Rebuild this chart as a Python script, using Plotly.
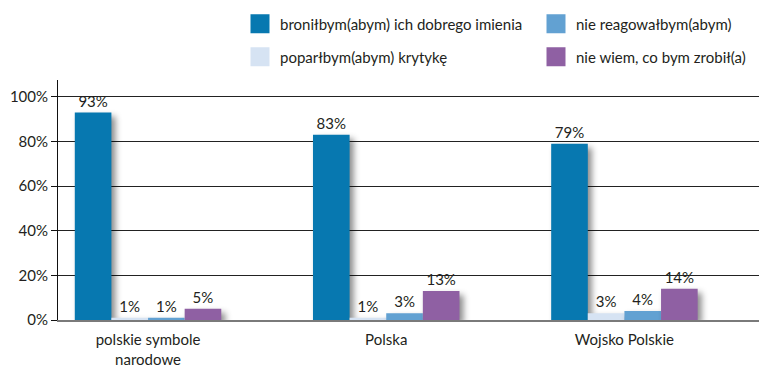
import plotly.graph_objects as go

categories = ["polskie symbole<br>narodowe", "Polska", "Wojsko Polskie"]
series_names = [
    "broniłbym(abym) ich dobrego imienia",
    "poparłbym(abym) krytykę",
    "nie reagowałbym(abym)",
    "nie wiem, co bym zrobił(a)",
]
broniłbym = [93, 83, 79]
poparłbym = [1, 1, 3]
nie_reagowałbym = [1, 3, 4]
nie_wiem = [5, 13, 14]
series_values = [broniłbym, poparłbym, nie_reagowałbym, nie_wiem]
colors = ["#0778B0", "#D6E3F3", "#62A1D2", "#8F60A3"]
y_ticks = [0, 20, 40, 60, 80, 100]
y_tick_labels = [f"{t}%" for t in y_ticks]

FONT = "Lato"
TEXT = "#231F20"
W, H = 759, 368

# legend placement: one single-item legend per series, laid out in two columns
legend_pos = [(250, 24), (250, 57), (546, 24), (546, 57)]

fig = go.Figure()
for i, (name, vals, col) in enumerate(zip(series_names, series_values, colors)):
    fig.add_trace(go.Bar(
        x=categories, y=vals, name=name, marker_color=col,
        marker_line_width=0,
        text=vals, texttemplate="%{y}%", textposition="outside",
        textfont=dict(family=FONT, size=15, color=TEXT),
        cliponaxis=False, showlegend=False,
    ))
    lg = "legend" if i == 0 else f"legend{i + 1}"
    fig.add_trace(go.Scatter(
        x=[categories[0]], y=[None], mode="markers", name=name,
        marker=dict(symbol="square", size=19, color=col,
                    line=dict(width=3, color=col)),
        legend=lg, showlegend=True, hoverinfo="skip",
    ))

layout_legends = {}
for i, (px, py) in enumerate(legend_pos):
    key = "legend" if i == 0 else f"legend{i + 1}"
    layout_legends[key] = dict(
        xref="container", yref="container",
        x=(px - 10) / W, y=1 - py / H, xanchor="left", yanchor="middle",
        font=dict(family=FONT, size=15, color=TEXT),
        bgcolor="rgba(0,0,0,0)", itemsizing="trace", itemwidth=30,
        borderwidth=0,
    )

fig.update_layout(
    width=W, height=H,
    margin=dict(l=58, r=0, t=80, b=48, autoexpand=False),
    paper_bgcolor="white", plot_bgcolor="white",
    barmode="group", bargap=0.385, bargroupgap=0,
    font=dict(family=FONT, size=15, color=TEXT),
    **layout_legends,
)
fig.update_xaxes(
    type="category", categoryorder="array", categoryarray=categories,
    range=[-0.378, 2.565], automargin=False, ticklabelstandoff=5,
    showgrid=False, showline=True, linecolor="#7A7A7A", linewidth=2,
    ticks="", tickfont=dict(family=FONT, size=15, color=TEXT),
)
fig.update_yaxes(
    range=[0, 107.6], tickvals=y_ticks, ticktext=y_tick_labels, automargin=False,
    showgrid=True, gridcolor="#222222", gridwidth=1,
    zeroline=False, showline=True, linecolor="#111111", linewidth=1,
    ticks="outside", ticklen=6, tickcolor="#111111",
    tickfont=dict(family=FONT, size=15, color=TEXT),
)

# soft drop shadow under the bars
shadow_js = """
(function(){
  function apply(){
    document.querySelectorAll('.barlayer .point path').forEach(function(p){
      p.style.filter = 'drop-shadow(4px 4px 3px rgba(0,0,0,0.45))';
    });
  }
  apply();
  setTimeout(apply, 50);
  setTimeout(apply, 300);
})();
"""
fig.write_html("out.html", post_script=shadow_js)
